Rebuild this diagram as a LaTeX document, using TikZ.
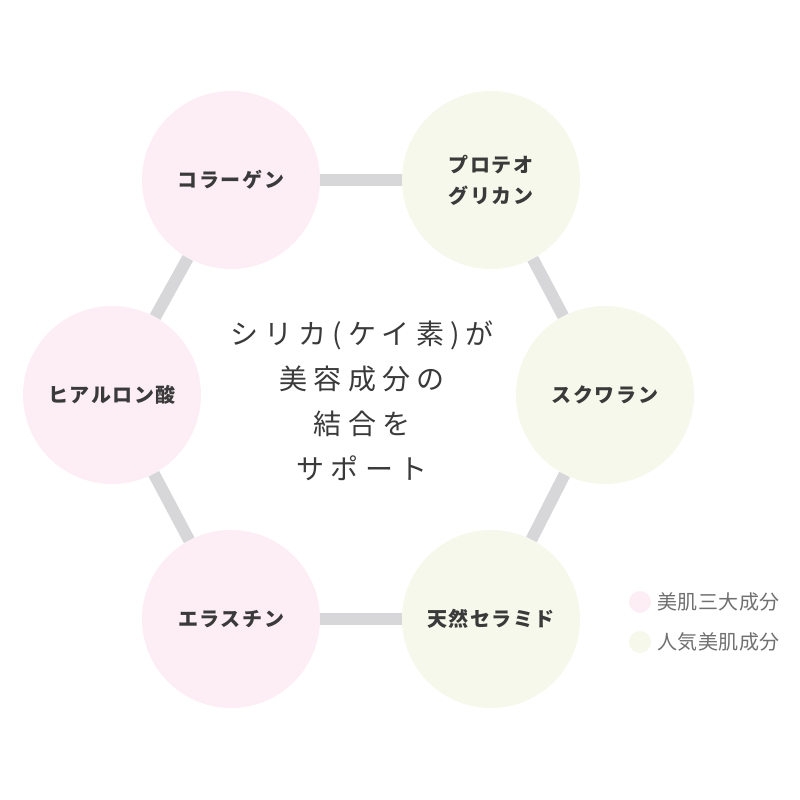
\documentclass[tikz,border=0pt]{standalone}
\usepackage{fontspec}
\usepackage{tikz}
\newfontfamily\lblfont[LetterSpace=8]{Noto Sans CJK JP}
\newfontfamily\midfont[LetterSpace=22]{Noto Sans CJK JP}
\newfontfamily\legfont[LetterSpace=2]{Noto Sans CJK JP}
\definecolor{pinkfill}{HTML}{FDEEF5}
\definecolor{greenfill}{HTML}{F5F8EA}
\definecolor{barcol}{HTML}{D7D7D9}
\definecolor{txtcol}{HTML}{3A3A3A}
\definecolor{legcol}{HTML}{707070}

\begin{document}
\begin{tikzpicture}[x=1pt, y=-1pt,
    ingr/.style={circle, minimum size=178pt, inner sep=0pt, text=txtcol,
        align=center, font=\lblfont\bfseries\fontsize{20}{31}\selectfont},
    beauty/.style={ingr, fill=pinkfill},
    popular/.style={ingr, fill=greenfill},
    link/.style={draw=barcol, line width=12pt}]
    \useasboundingbox (0,0) rectangle (800,800);

    % 六角形に並ぶ成分
    \node[beauty]  (collagen)   at (231,180) {コラーゲン};
    \node[popular] (proteo)     at (491,180) {プロテオ\\グリカン};
    \node[popular] (squalane)   at (605,395) {スクワラン};
    \node[beauty]  (hyaluronic) at (112,395) {ヒアルロン酸};
    \node[beauty]  (elastin)    at (231,619) {エラスチン};
    \node[popular] (ceramide)   at (491,619) {天然セラミド};

    % 結合のバー
    \draw[link] (collagen) -- (proteo);
    \draw[link] (proteo) -- (squalane);
    \draw[link] (squalane) -- (ceramide);
    \draw[link] (ceramide) -- (elastin);
    \draw[link] (elastin) -- (hyaluronic);
    \draw[link] (hyaluronic) -- (collagen);

    % 中央のテキスト
    \node[align=center, text=txtcol, font=\midfont\fontsize{28}{45}\selectfont] (silica) at (362,401)
        {シリカ(ケイ素)が\\美容成分の\\結合を\\サポート};

    % 凡例
    \fill[pinkfill] (640,602) circle (11);
    \fill[greenfill] (640,642) circle (11);
    \node[anchor=west, text=legcol, font=\legfont\fontsize{20}{22}\selectfont] (legbeauty) at (654,602) {美肌三大成分};
    \node[anchor=west, text=legcol, font=\legfont\fontsize{20}{22}\selectfont] (legpopular) at (654,642) {人気美肌成分};
\end{tikzpicture}
\end{document}
